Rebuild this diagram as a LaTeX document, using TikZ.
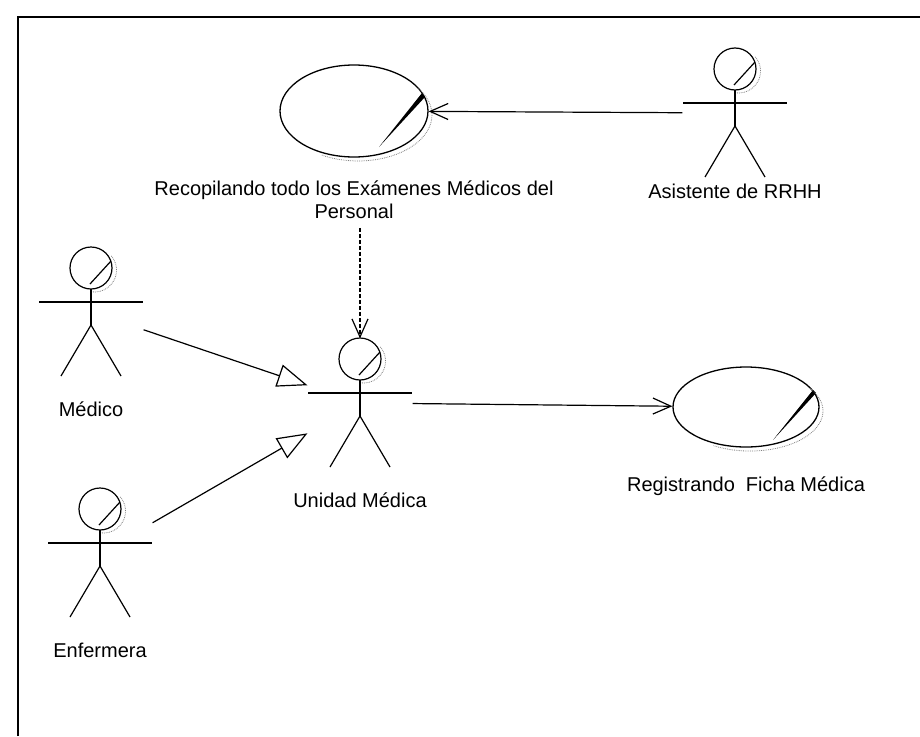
\documentclass[tikz,border=0pt]{standalone}
\usepackage{fontspec}
\setmainfont{Liberation Sans}
\usetikzlibrary{positioning, arrows.meta, shapes.geometric, calc}

\begin{document}
\begin{tikzpicture}[x=1pt, y=-1pt, line width=1.2pt]
	\tikzset{
		every node/.style={font=\fontsize{20}{23}\selectfont},
		actorbox/.style={minimum width=104pt, minimum height=128pt, inner sep=0pt},
		usecase/.style={draw, ellipse, line width=1.3pt, inner sep=0pt},
		caption/.style={inner sep=0pt, text height=15pt, text depth=4pt},
		assoc/.style={-{Straight Barb[length=18pt, width=16pt]}},
		depend/.style={assoc, dash pattern=on 4pt off 2pt},
		general/.style={-{Triangle[open, length=30pt, width=23pt]}},
		shade/.style={gray, densely dotted, line width=0.8pt},
		actor/.pic={
			\draw (0,-44) circle[radius=21pt];
			\draw (-1,-28) -- (20,-51);
			\draw[shade] (20.4,-56.1) arc[start angle=40, end angle=-100, radius=22pt];
			\draw (-52,-10) -- (52,-10);
			\draw (0,-23) -- (0,13);
			\draw (-30,64) -- (0,13) -- (30,64);
		}
	}
	\useasboundingbox (0,0) rectangle (920,736);
	
	% Frame
	\draw[line width=2.5pt] (18,736) -- (18,17) -- (920,17);
	
	% Actors
	\node[actorbox] (asistente) at (735,113) {};
	\pic at (asistente) {actor};
	\node[actorbox] (medico) at (91,312) {};
	\pic at (medico) {actor};
	\node[actorbox] (unidad) at (360,403) {};
	\pic at (unidad) {actor};
	\node[actorbox] (enfermera) at (100,553) {};
	\pic at (enfermera) {actor};
	
	% Use cases
	\node[usecase, minimum width=148pt, minimum height=92pt] (recopilar) at (354,111) {};
	\node[usecase, minimum width=146pt, minimum height=80pt] (registrar) at (746,407) {};
	\fill ($(recopilar.center)+(25,36)$) -- ($(recopilar.center)+(68,-18)$) -- ($(recopilar.center)+(71,-14)$) -- cycle;
	\fill ($(registrar.center)+(27,33)$) -- ($(registrar.center)+(67,-17)$) -- ($(registrar.center)+(70,-14)$) -- cycle;
	\draw[shade] ($(recopilar.center)+(64.6,-22.4)$) arc[start angle=35, end angle=-120, x radius=74pt, y radius=46pt];
	\draw[shade] ($(registrar.center)+(63.8,-18.9)$) arc[start angle=35, end angle=-120, x radius=73pt, y radius=40pt];
	
	% Labels
	\node[caption, below=5pt of asistente] (asistentelbl) {Asistente de RRHH};
	\node[caption, below=24pt of medico] (medicolbl) {Médico};
	\node[caption, below=24pt of unidad] (unidadlbl) {Unidad Médica};
	\node[caption, below=24pt of enfermera] (enfermeralbl) {Enfermera};
	\node[inner sep=0pt, align=center, below=23pt of recopilar] (recopilarlbl) {Recopilando todo los Exámenes Médicos del\\Personal};
	\node[caption, below=28pt of registrar] (registrarlbl) {Registrando\ \ Ficha Médica};
	
	% Connectors
	\draw[assoc] (asistente) -- (recopilar);
	\draw[depend] ($(recopilarlbl.south -| unidad.north)+(0,8)$) -- (unidad.north);
	\draw[general] (medico) -- (unidad);
	\draw[general] (enfermera) -- (unidad);
	\draw[assoc] (unidad) -- (registrar);
	
\end{tikzpicture}
\end{document}
